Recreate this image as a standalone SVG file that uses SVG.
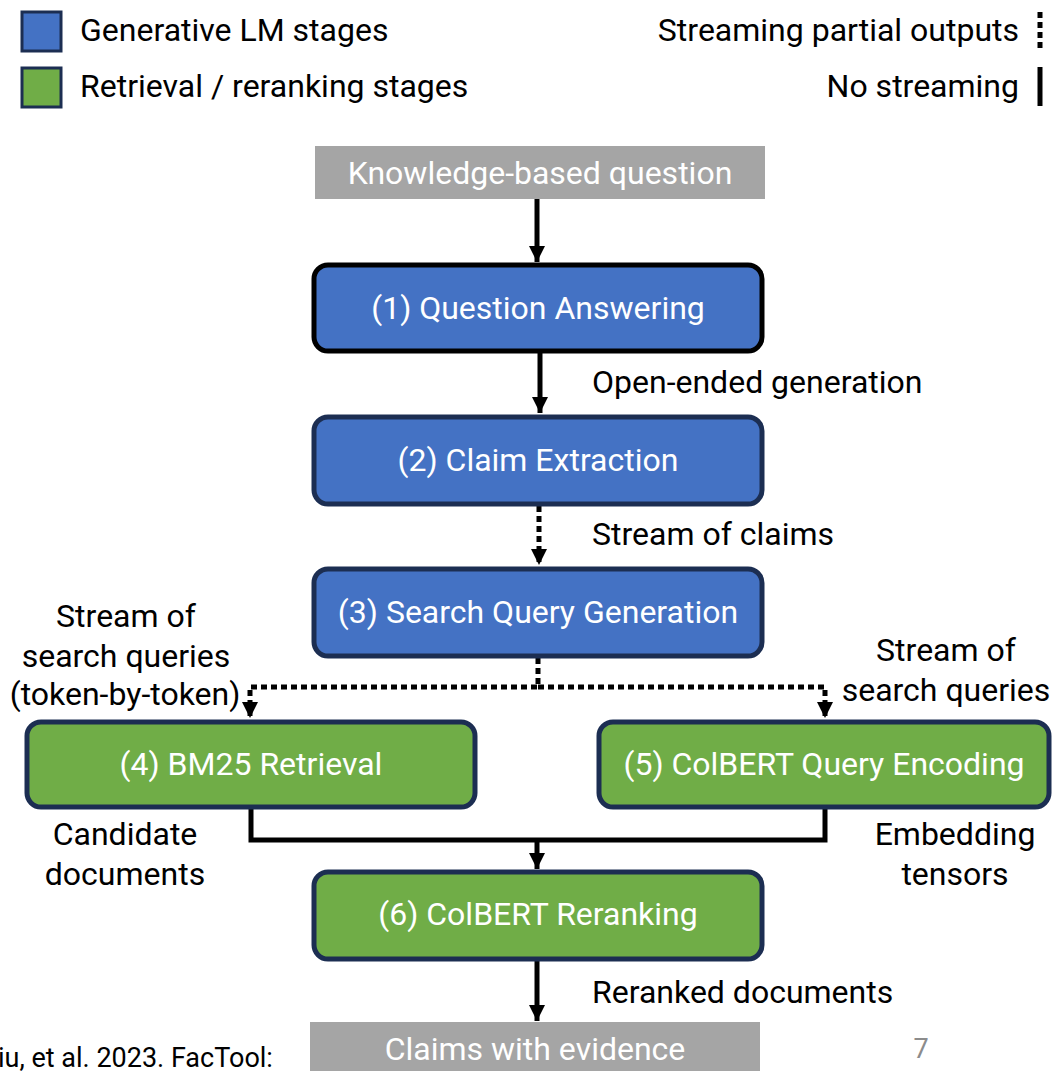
<svg xmlns="http://www.w3.org/2000/svg" width="1056" height="1071" viewBox="0 0 1056 1071">
<defs>
<style>
text{font-family:Roboto,"Liberation Sans",sans-serif;font-size:32px;}
.lbl{fill:#000;}
.wt{fill:#fff;text-anchor:middle;}
.mid{text-anchor:middle;}
.end{text-anchor:end;}
.blue{fill:#4472c4;stroke:#1c2e52;stroke-width:5;}
.green{fill:#70ad47;stroke:#1c2e52;stroke-width:5;}
.gray{fill:#a5a5a5;}
.solid{fill:none;stroke:#000;stroke-width:5;}
.dot{fill:none;stroke:#000;stroke-width:5;stroke-dasharray:6 4;}
</style>
<marker id="ah" viewBox="0 0 10 10" refX="10" refY="5" markerWidth="16" markerHeight="16" markerUnits="userSpaceOnUse" orient="auto">
<path d="M0,0 L10,5 L0,10 Z" fill="#000"/>
</marker>
</defs>
<rect width="1056" height="1071" fill="#fff"/>

<g id="legend">
<rect x="22" y="12" width="39" height="39" fill="#4472c4" stroke="#1c2e52" stroke-width="3"/>
<text class="lbl" x="80" y="41">Generative LM stages</text>
<rect x="22" y="68" width="39" height="39" fill="#70ad47" stroke="#1c2e52" stroke-width="3"/>
<text class="lbl" x="80" y="97">Retrieval / reranking stages</text>
<text class="lbl end" x="1019" y="41">Streaming partial outputs</text>
<line x1="1040" y1="12" x2="1040" y2="49" class="dot"/>
<text class="lbl end" x="1019" y="97">No streaming</text>
<line x1="1040" y1="67" x2="1040" y2="106" class="solid"/>
</g>

<g id="connectors">
<line x1="537" y1="199" x2="537" y2="262" class="solid" marker-end="url(#ah)"/>
<line x1="540" y1="353" x2="540" y2="413" class="solid" marker-end="url(#ah)"/>
<line x1="539" y1="506" x2="539" y2="565" class="dot" marker-end="url(#ah)"/>
<polyline points="538,658 538,687 250,687 250,718" class="dot" marker-end="url(#ah)"/>
<polyline points="538,687 825,687 825,718" class="dot" marker-end="url(#ah)"/>
<polyline points="251,809 251,840 825,840 825,809" class="solid"/>
<line x1="537" y1="840" x2="537" y2="869" class="solid" marker-end="url(#ah)"/>
<line x1="537" y1="960" x2="537" y2="1021" class="solid" marker-end="url(#ah)"/>
</g>

<g id="labels">
<text class="lbl" x="592" y="393">Open-ended generation</text>
<text class="lbl" x="592" y="545">Stream of claims</text>
<text class="lbl mid" x="126" y="627">Stream of</text>
<text class="lbl mid" x="126" y="667">search queries</text>
<text class="lbl mid" x="125" y="705">(token-by-token)</text>
<text class="lbl mid" x="946" y="661">Stream of</text>
<text class="lbl mid" x="946" y="701">search queries</text>
<text class="lbl mid" x="125" y="845">Candidate</text>
<text class="lbl mid" x="125" y="885">documents</text>
<text class="lbl mid" x="955" y="845">Embedding</text>
<text class="lbl mid" x="955" y="885">tensors</text>
<text class="lbl" x="592" y="1003">Reranked documents</text>
<text class="lbl" x="-2" y="1067" style="font-size:27px">iu, et al. 2023. FacTool:</text>
<text x="921" y="1058" class="mid" style="fill:#8c8c8c;font-size:27px">7</text>
</g>

<g id="n0">
<rect x="315" y="146" width="450" height="53" class="gray"/>
<text class="wt" x="540" y="184">Knowledge-based question</text>
</g>
<g id="n1">
<rect x="314" y="265" width="448" height="86" rx="14" fill="#4472c4" stroke="#000" stroke-width="5"/>
<text class="wt" x="538" y="319">(1) Question Answering</text>
</g>
<g id="n2">
<rect x="314" y="417" width="448" height="87" rx="14" class="blue"/>
<text class="wt" x="538" y="471">(2) Claim Extraction</text>
</g>
<g id="n3">
<rect x="314" y="569" width="448" height="87" rx="14" class="blue"/>
<text class="wt" x="538" y="623">(3) Search Query Generation</text>
</g>
<g id="n4">
<rect x="27" y="722" width="448" height="85" rx="14" class="green"/>
<text class="wt" x="251" y="775">(4) BM25 Retrieval</text>
</g>
<g id="n5">
<rect x="599" y="722" width="450" height="85" rx="14" class="green"/>
<text class="wt" x="824" y="775">(5) ColBERT Query Encoding</text>
</g>
<g id="n6">
<rect x="314" y="872" width="448" height="87" rx="14" class="green"/>
<text class="wt" x="538" y="925">(6) ColBERT Reranking</text>
</g>
<g id="n7">
<rect x="310" y="1022" width="450" height="52" class="gray"/>
<text class="wt" x="535" y="1060">Claims with evidence</text>
</g>
</svg>
